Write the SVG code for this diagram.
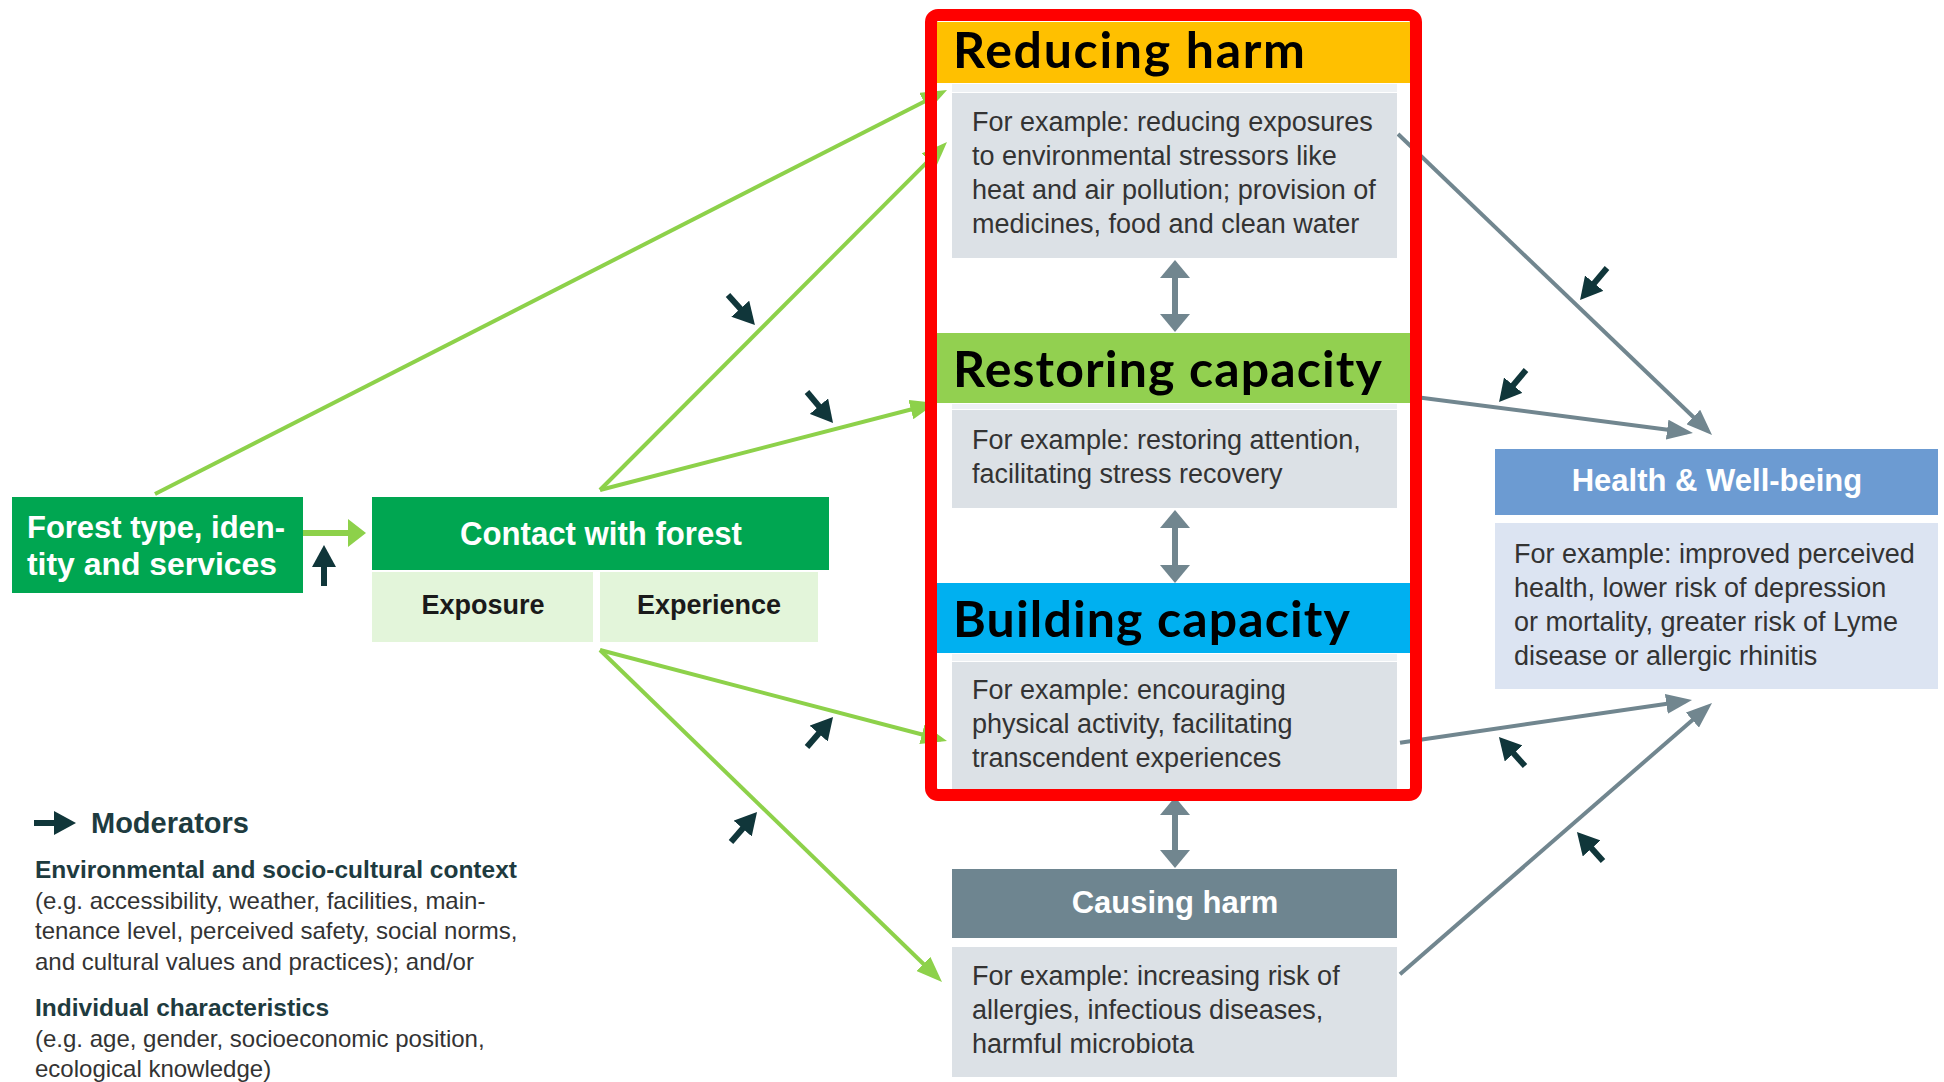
<svg xmlns="http://www.w3.org/2000/svg" width="1944" height="1082" viewBox="0 0 1944 1082">
<style>
.body{font-family:"Liberation Sans",Arial,sans-serif;font-size:27px;fill:#333}
.hdr{font-family:"Liberation Sans",Arial,sans-serif;font-size:31px;font-weight:bold;fill:#fff}
.big{font-family:Lato,"Open Sans",sans-serif;font-size:50px;font-weight:bold;fill:#000}
.box{fill:#DCE1E6}
.g{stroke:#8DD14A;stroke-width:4;fill:none;marker-end:url(#gh)}
.s{stroke:#71868F;stroke-width:4;fill:none;marker-end:url(#sh)}
.m{stroke:#10363A;stroke-width:6;fill:none;marker-end:url(#mh)}
.d{stroke:#71868F;stroke-width:6;fill:none;marker-start:url(#dh);marker-end:url(#dh)}
.leg{font-family:"Liberation Sans",Arial,sans-serif;font-size:24px;fill:#333}
.legb{font-family:"Liberation Sans",Arial,sans-serif;font-size:24.5px;font-weight:bold;fill:#1E3B3F}
</style>
<defs>
<marker id="gh" markerUnits="userSpaceOnUse" markerWidth="26" markerHeight="20" viewBox="0 0 26 20" refX="20" refY="10" orient="auto"><path d="M0,0 L26,10 L0,20 z" fill="#8DD14A"/></marker>
<marker id="gb" markerUnits="userSpaceOnUse" markerWidth="18" markerHeight="28" viewBox="0 0 18 28" refX="12" refY="14" orient="auto"><path d="M0,0 L18,14 L0,28 z" fill="#8DD14A"/></marker>
<marker id="sh" markerUnits="userSpaceOnUse" markerWidth="26" markerHeight="20" viewBox="0 0 26 20" refX="20" refY="10" orient="auto"><path d="M0,0 L26,10 L0,20 z" fill="#71868F"/></marker>
<marker id="mh" markerUnits="userSpaceOnUse" markerWidth="22" markerHeight="24" viewBox="0 0 22 24" refX="14" refY="12" orient="auto"><path d="M0,0 L22,12 L0,24 z" fill="#10363A"/></marker>
<marker id="dh" markerUnits="userSpaceOnUse" markerWidth="18" markerHeight="30" viewBox="0 0 18 30" refX="10" refY="15" orient="auto-start-reverse"><path d="M0,0 L18,15 L0,30 z" fill="#71868F"/></marker>
</defs>
<rect width="1944" height="1082" fill="#fff"/>

<g id="connectors">
<line class="g" x1="155" y1="494" x2="941.7" y2="92.7"/>
<line class="g" x1="600" y1="490" x2="942.8" y2="146.3"/>
<line class="g" x1="600" y1="490" x2="930.2" y2="404.5"/>
<line class="g" x1="600" y1="650" x2="941.2" y2="739.5"/>
<line class="g" x1="600" y1="650" x2="937.7" y2="977.8"/>
<line x1="303" y1="533" x2="360" y2="533" stroke="#8DD14A" stroke-width="6" marker-end="url(#gb)"/>
<line class="s" x1="1398" y1="134" x2="1707.7" y2="430.8"/>
<line class="s" x1="1398" y1="394.7" x2="1687" y2="432.2"/>
<line class="s" x1="1400" y1="742.7" x2="1686.1" y2="700.9"/>
<line class="s" x1="1400" y1="974.3" x2="1707.5" y2="706.9"/>
<line class="d" x1="1175" y1="268" x2="1175" y2="324"/>
<line class="d" x1="1175" y1="518" x2="1175" y2="575"/>
<line class="d" x1="1175" y1="805" x2="1175" y2="860"/>
<line class="m" x1="728" y1="295" x2="749.6" y2="319.1"/>
<line class="m" x1="807" y1="392" x2="827.9" y2="416.9"/>
<line class="m" x1="807" y1="747" x2="827.8" y2="723"/>
<line class="m" x1="731" y1="842" x2="751.8" y2="818"/>
<line class="m" x1="1607" y1="268" x2="1585.2" y2="293.9"/>
<line class="m" x1="1526" y1="370" x2="1504.2" y2="395.9"/>
<line class="m" x1="1525" y1="766" x2="1504.3" y2="743"/>
<line class="m" x1="1603" y1="861" x2="1582.3" y2="838"/>
<line class="m" x1="324" y1="586" x2="324" y2="553"/>
</g>

<g id="forest-type">
<rect x="12" y="497" width="291" height="96" fill="#00A651"/>
<text class="hdr" x="27" y="538" style="font-size:32px" textLength="258" lengthAdjust="spacingAndGlyphs">Forest type, iden-</text>
<text class="hdr" x="27" y="575" style="font-size:32px" textLength="250" lengthAdjust="spacingAndGlyphs">tity and services</text>
</g>

<g id="contact">
<rect x="372" y="497" width="457" height="73" fill="#00A651"/>
<text class="hdr" x="601" y="545" text-anchor="middle" style="font-size:33px" textLength="282" lengthAdjust="spacingAndGlyphs">Contact with forest</text>
<rect x="372" y="572" width="221" height="70" fill="#E3F5DA"/>
<rect x="600" y="572" width="218" height="70" fill="#E3F5DA"/>
<text class="hdr" x="483" y="614" text-anchor="middle" style="fill:#1a1a1a;font-size:27px">Exposure</text>
<text class="hdr" x="709" y="614" text-anchor="middle" style="fill:#1a1a1a;font-size:27px">Experience</text>
</g>

<g id="reducing-harm">
<rect x="937" y="22" width="473" height="61" fill="#FFC000"/>
<text class="big" x="953" y="68" textLength="352">Reducing harm</text>
<rect x="952" y="84" width="445" height="8" fill="#EEF1F4"/>
<rect class="box" x="952" y="93" width="445" height="165"/>
<text class="body" x="972" y="131">For example: reducing exposures</text>
<text class="body" x="972" y="165">to environmental stressors like</text>
<text class="body" x="972" y="199">heat and air pollution; provision of</text>
<text class="body" x="972" y="233">medicines, food and clean water</text>
</g>

<g id="restoring-capacity">
<rect x="937" y="333" width="473" height="70" fill="#92D050"/>
<text class="big" x="953" y="387" textLength="429">Restoring capacity</text>
<rect x="952" y="404" width="445" height="5" fill="#EEF1F4"/>
<rect class="box" x="952" y="410" width="445" height="98"/>
<text class="body" x="972" y="449">For example: restoring attention,</text>
<text class="body" x="972" y="483">facilitating stress recovery</text>
</g>

<g id="building-capacity">
<rect x="937" y="583" width="473" height="70" fill="#00B0F0"/>
<text class="big" x="953" y="637" textLength="397">Building capacity</text>
<rect x="952" y="654" width="445" height="7" fill="#EEF1F4"/>
<rect class="box" x="952" y="662" width="445" height="128"/>
<text class="body" x="972" y="699">For example: encouraging</text>
<text class="body" x="972" y="733">physical activity, facilitating</text>
<text class="body" x="972" y="767">transcendent experiences</text>
</g>

<g id="causing-harm">
<rect x="952" y="869" width="445" height="69" fill="#6E8590"/>
<text class="hdr" x="1175" y="913" text-anchor="middle">Causing harm</text>
<rect class="box" x="952" y="947" width="445" height="130"/>
<text class="body" x="972" y="985">For example: increasing risk of</text>
<text class="body" x="972" y="1019">allergies, infectious diseases,</text>
<text class="body" x="972" y="1053">harmful microbiota</text>
</g>

<g id="health">
<rect x="1495" y="449" width="443" height="66" fill="#6C9BD2"/>
<text class="hdr" x="1717" y="491" text-anchor="middle">Health &amp; Well-being</text>
<rect x="1495" y="523" width="443" height="166" fill="#DCE4F2"/>
<text class="body" x="1514" y="563">For example: improved perceived</text>
<text class="body" x="1514" y="597">health, lower risk of depression</text>
<text class="body" x="1514" y="631">or mortality, greater risk of Lyme</text>
<text class="body" x="1514" y="665">disease or allergic rhinitis</text>
</g>

<g id="legend">
<line class="m" x1="34" y1="823" x2="68" y2="823"/>
<text class="legb" x="91" y="833" style="font-size:29px">Moderators</text>
<text class="legb" x="35" y="878">Environmental and socio-cultural context</text>
<text class="leg" x="35" y="909">(e.g. accessibility, weather, facilities, main-</text>
<text class="leg" x="35" y="939">tenance level, perceived safety, social norms,</text>
<text class="leg" x="35" y="970">and cultural values and practices); and/or</text>
<text class="legb" x="35" y="1016">Individual characteristics</text>
<text class="leg" x="35" y="1047">(e.g. age, gender, socioeconomic position,</text>
<text class="leg" x="35" y="1077">ecological knowledge)</text>
</g>

<g id="highlight">
<rect x="931" y="15" width="485" height="780" rx="7" fill="none" stroke="#FF0000" stroke-width="12"/>
</g>
</svg>
